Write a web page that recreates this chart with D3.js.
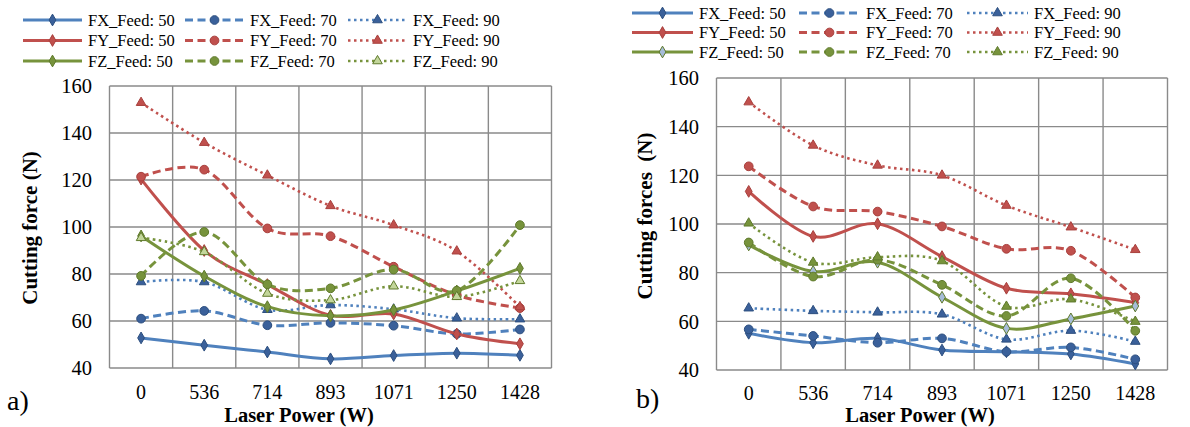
<!DOCTYPE html>
<html>
<head>
<meta charset="utf-8">
<script src="https://cdn.jsdelivr.net/npm/d3@7"></script>
<style>
  html, body { margin: 0; padding: 0; background: #fff; }
  svg { display: block; }
</style>
</head>
<body>
<svg id="chart" width="1190" height="427"></svg>
<script>
// ---------------- DATA ----------------
const categories = ["0", "536", "714", "893", "1071", "1250", "1428"];
const yTicks = [40, 60, 80, 100, 120, 140, 160];
const seriesNames = ["FX_Feed: 50", "FX_Feed: 70", "FX_Feed: 90",
                     "FY_Feed: 50", "FY_Feed: 70", "FY_Feed: 90",
                     "FZ_Feed: 50", "FZ_Feed: 70", "FZ_Feed: 90"];

// Chart a)
const aFX50 = [52.8, 49.7, 46.8, 43.9, 45.3, 46.3, 45.4];
const aFX70 = [61.0, 64.3, 58.2, 59.2, 58.0, 54.5, 56.4];
const aFX90 = [76.6, 76.6, 64.8, 66.8, 65.0, 61.2, 60.8];
const aFY50 = [120.4, 90.0, 75.5, 62.4, 63.0, 54.5, 50.3];
const aFY70 = [121.4, 124.4, 99.4, 96.1, 83.1, 71.0, 65.5];
const aFY90 = [152.9, 135.9, 122.0, 109.0, 100.8, 89.7, 66.0];
const aFZ50 = [96.2, 79.1, 66.1, 62.2, 64.7, 72.8, 82.4];
const aFZ70 = [79.2, 97.9, 75.6, 73.9, 81.9, 72.9, 100.8];
const aFZ90 = [95.4, 89.4, 71.7, 68.9, 74.8, 70.3, 77.1];

// Chart b)
const bFX50 = [55.1, 51.2, 53.0, 48.2, 47.5, 46.6, 42.5];
const bFX70 = [56.7, 54.0, 51.2, 53.0, 47.5, 49.3, 44.4];
const bFX90 = [65.4, 64.3, 63.7, 62.9, 52.6, 56.2, 51.7];
const bFY50 = [113.4, 94.9, 100.1, 86.6, 73.6, 71.3, 67.7];
const bFY70 = [123.7, 107.2, 105.1, 99.0, 89.8, 89.0, 69.8];
const bFY90 = [150.1, 132.3, 124.1, 120.0, 107.6, 98.7, 89.4];
const bFZ50 = [91.4, 80.5, 84.3, 69.9, 57.1, 61.0, 66.3];
const bFZ70 = [92.4, 78.4, 85.3, 75.0, 62.2, 77.7, 56.1];
const bFZ90 = [100.3, 84.2, 86.4, 84.8, 66.1, 69.1, 59.9];

// ---------------- STYLES ----------------
const FONT = "Liberation Serif";
const colors = { X: "#4f81bd", Y: "#c0504d", Z: "#77933c" };
const markerFill = { X: "#3a609a", Y: "#c0504d", Z: "#77933c" };
const markerStroke = { X: "#2d4f7f", Y: "#a8403d", Z: "#5f7a2c" };
const dashes = { 50: null, 70: "8,4.5", 90: "2.5,3.5" };
const symbols = { 50: d3.symbolDiamond, 70: d3.symbolCircle, 90: d3.symbolTriangle };
const symSize = { 50: 40, 70: 60, 90: 40 };

function seriesMeta(name) {
  return { axis: name[1], feed: +name.slice(-2) };
}

const svg = d3.select("#chart");
svg.append("rect").attr("width", 1190).attr("height", 427).attr("fill", "#fff");

function drawChart(cfg) {
  const x = d3.scaleBand().domain(categories).range([cfg.x0, cfg.x1]).padding(0);
  const y = d3.scaleLinear().domain([40, 160]).range([cfg.yb, cfg.yt]);
  const g = svg.append("g").attr("font-family", FONT);

  // gridlines
  g.selectAll("line.h").data(yTicks).join("line")
    .attr("x1", cfg.x0).attr("x2", cfg.x1)
    .attr("y1", d => y(d)).attr("y2", d => y(d))
    .attr("stroke", "#8a8a8a").attr("stroke-width", 1.4);
  const bounds = categories.map(c => x(c)).concat([cfg.x1]);
  g.selectAll("line.v").data(bounds).join("line")
    .attr("x1", d => d).attr("x2", d => d)
    .attr("y1", y(40)).attr("y2", y(160))
    .attr("stroke", "#8a8a8a").attr("stroke-width", 1.4);

  // y axis labels
  const yAxis = d3.axisLeft(y).tickValues(yTicks).tickSize(0).tickPadding(0);
  const ya = g.append("g").attr("transform", `translate(${cfg.yLabelX},0)`).call(yAxis);
  ya.attr("font-family", FONT).attr("font-size", 20.5);
  ya.select(".domain").remove();
  ya.selectAll("text").attr("font-family", FONT).attr("font-size", 20.5)
    .attr("dy", "0.34em").attr("fill", "#000");

  // x axis labels
  const xAxis = d3.axisBottom(x).tickSize(0).tickPadding(0);
  const xa = g.append("g").attr("transform", `translate(0,${cfg.xLabelY})`).call(xAxis);
  xa.attr("font-family", FONT).attr("font-size", 20);
  xa.select(".domain").remove();
  xa.selectAll("text").attr("font-family", FONT).attr("font-size", 20)
    .attr("dy", "0.34em").attr("y", 0).attr("fill", "#000");

  // axis titles
  g.append("text").attr("x", cfg.xTitle[0]).attr("y", cfg.xTitle[1])
    .attr("text-anchor", "middle").attr("dy", "0.34em")
    .attr("font-family", FONT).attr("font-weight", "bold").attr("font-size", 20.5)
    .text("Laser Power (W)");
  g.append("text")
    .attr("transform", `translate(${cfg.yTitle[0]},${cfg.yTitle[1]}) rotate(-90)`)
    .attr("text-anchor", "middle").attr("dy", "0.34em")
    .attr("font-family", FONT).attr("font-weight", "bold").attr("font-size", 21)
    .attr("xml:space", "preserve").style("white-space", "pre")
    .text(cfg.yTitleText);

  // panel label
  g.append("text").attr("x", cfg.panel[0]).attr("y", cfg.panel[1])
    .attr("font-family", FONT).attr("font-size", 28).text(cfg.panelText);

  // lines
  const line = d3.line()
    .x((d, i) => x(categories[i]) + x.bandwidth() / 2)
    .y(d => y(d))
    .curve(d3.curveCatmullRom.alpha(0));

  cfg.data.forEach((vals, k) => {
    const m = seriesMeta(seriesNames[k]);
    g.append("path").datum(vals).attr("d", line)
      .attr("fill", "none").attr("stroke", colors[m.axis])
      .attr("stroke-width", m.feed === 90 ? 2.6 : 3)
      .attr("stroke-dasharray", dashes[m.feed])
      .attr("stroke-linejoin", "round");
    g.selectAll(null).data(vals).join("path")
      .attr("transform", (d, i) => `translate(${x(categories[i]) + x.bandwidth() / 2},${y(d)})`)
      .attr("d", d3.symbol().type(symbols[m.feed]).size(symSize[m.feed]))
      .attr("fill", (cfg.markerFillOverride && cfg.markerFillOverride[k]) || markerFill[m.axis])
      .attr("stroke", markerStroke[m.axis]).attr("stroke-width", 1);
  });

  // legend
  const lg = g.append("g");
  seriesNames.forEach((name, k) => {
    const m = seriesMeta(name);
    const c = [50, 70, 90].indexOf(m.feed);
    const r = ["X", "Y", "Z"].indexOf(m.axis);
    const lx = cfg.legCols[c], ly = cfg.legRows[r];
    lg.append("line").attr("x1", lx).attr("x2", lx + cfg.legLineW)
      .attr("y1", ly).attr("y2", ly)
      .attr("stroke", colors[m.axis]).attr("stroke-width", m.feed === 90 ? 2.6 : 3)
      .attr("stroke-dasharray", dashes[m.feed]);
    lg.append("path")
      .attr("transform", `translate(${lx + cfg.legLineW / 2},${ly})`)
      .attr("d", d3.symbol().type(symbols[m.feed]).size(symSize[m.feed]))
      .attr("fill", (cfg.markerFillOverride && cfg.markerFillOverride[k]) || markerFill[m.axis])
      .attr("stroke", markerStroke[m.axis]).attr("stroke-width", 1);
    lg.append("text").attr("x", lx + cfg.legLineW + 6).attr("y", ly)
      .attr("dy", "0.34em").attr("font-family", FONT).attr("font-size", 16.5)
      .text(name);
  });
}

drawChart({
  x0: 109.5, x1: 551.5, yb: 368, yt: 86,
  yLabelX: 92, xLabelY: 392,
  xTitle: [299, 415.5], yTitle: [30, 228], yTitleText: "Cutting force (N)",
  panel: [7, 410], panelText: "a)",
  legCols: [23, 185, 348], legRows: [20, 40.5, 61], legLineW: 59,
  data: [aFX50, aFX70, aFX90, aFY50, aFY70, aFY90, aFZ50, aFZ70, aFZ90],
  markerFillOverride: { 8: "#c3d69b" }
});

drawChart({
  x0: 716.5, x1: 1167.5, yb: 370, yt: 78,
  yLabelX: 699, xLabelY: 393.5,
  xTitle: [920, 415.5], yTitle: [645, 216], yTitleText: "Cutting forces  (N)",
  panel: [636, 408], panelText: "b)",
  legCols: [632, 799, 967], legRows: [13, 32.5, 52], legLineW: 61,
  data: [bFX50, bFX70, bFX90, bFY50, bFY70, bFY90, bFZ50, bFZ70, bFZ90],
  markerFillOverride: { 6: "#a6bcd8" }
});
</script>
</body>
</html>
